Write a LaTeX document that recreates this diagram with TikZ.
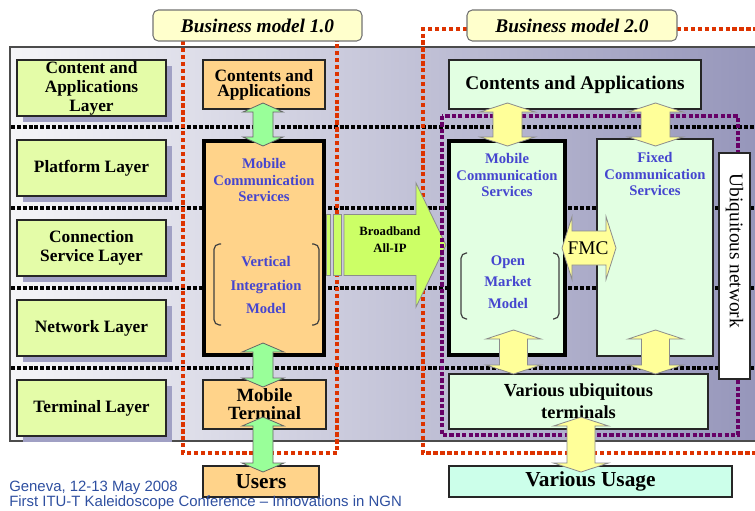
\documentclass[tikz,border=0pt]{standalone}
\usepackage{fontspec}
\setmainfont{Liberation Serif}
\newfontfamily\arialf{Liberation Sans}
\usetikzlibrary{calc,shadows}
\definecolor{layerc}{HTML}{E4FCA8}
\definecolor{shadowc}{HTML}{A0A0C4}
\definecolor{orangec}{HTML}{FFD38A}
\definecolor{mintc}{HTML}{E2FFE2}
\definecolor{usagec}{HTML}{CCFFEA}
\definecolor{labelc}{HTML}{FFFFCC}
\definecolor{greenarr}{HTML}{99FF99}
\definecolor{yellowarr}{HTML}{FFFF99}
\definecolor{bbc}{HTML}{CCFF66}
\definecolor{redline}{HTML}{DD3300}
\definecolor{purpleline}{HTML}{660066}
\definecolor{bluetext}{HTML}{4545CF}
\definecolor{footc}{HTML}{2E4FA0}
\definecolor{bgl}{HTML}{F5F5F8}
\definecolor{bgr}{HTML}{9595BA}
\newcommand\bx[7]{\node[#2, minimum width={(#5-#3)*0.75pt}, minimum height={(#6-#4)*0.75pt}] (#1) at ({(#3+#5)/2},{(#4+#6)/2}) {#7};}
\newcommand\vda[9]{\path[#1] let \p1=(#2 -| #4), \p2=(#3 -| #4) in
 (\x1,\y1+#8*0.75pt) -- (\x1+#5*0.75pt,\y1+#8*0.75pt-#7*0.75pt) -- (\x1+#6*0.75pt,\y1+#8*0.75pt-#7*0.75pt)
 -- (\x1+#6*0.75pt,\y2-#9*0.75pt+#7*0.75pt) -- (\x1+#5*0.75pt,\y2-#9*0.75pt+#7*0.75pt) -- (\x1,\y2-#9*0.75pt)
 -- (\x1-#5*0.75pt,\y2-#9*0.75pt+#7*0.75pt) -- (\x1-#6*0.75pt,\y2-#9*0.75pt+#7*0.75pt)
 -- (\x1-#6*0.75pt,\y1+#8*0.75pt-#7*0.75pt) -- (\x1-#5*0.75pt,\y1+#8*0.75pt-#7*0.75pt) -- cycle;}
\begin{document}
\begin{tikzpicture}[x=0.75pt,y=-0.75pt,
  sepline/.style={black, line width=2.5pt, dash pattern=on 3pt off 1.4pt},
  redd/.style={redline, line width=3.2pt, dash pattern=on 3.2pt off 2pt},
  purd/.style={purpleline, line width=3.2pt, dash pattern=on 3.2pt off 1.6pt},
  layer/.style={draw=black!85, line width=0.8pt, fill=layerc, align=center, inner sep=0pt, outer sep=0pt,
    font=\fontsize{13}{14.2}\selectfont\bfseries,
    drop shadow={shadow xshift=4.5pt, shadow yshift=-4.5pt, fill=shadowc, opacity=1}},
  obox/.style={draw=black!85, line width=0.8pt, fill=orangec, align=center, inner sep=0pt, outer sep=0pt},
  mbox/.style={draw=black!85, line width=0.8pt, fill=mintc, align=center, inner sep=0pt, outer sep=0pt},
  thickbox/.style={line width=3.2pt, draw=black},
  bmlabel/.style={draw=black!55, line width=0.8pt, rounded corners=4pt, fill=labelc, inner sep=0pt, outer sep=0pt,
    font=\fontsize{14.5}{16}\selectfont\bfseries\itshape},
  bluet/.style={text=bluetext, align=center, font=\fontsize{11}{12.3}\selectfont\bfseries},
  brack/.style={draw=black!75, line width=0.9pt, rounded corners=4pt},
  garrow/.style={fill=greenarr, draw=black!60, line width=0.6pt},
  yarrow/.style={fill=yellowarr, draw=black!45, line width=0.6pt},
  bbarrow/.style={fill=bbc, draw=black!45, line width=0.6pt}]
\useasboundingbox (0,0) rectangle (755,510);

% background panel
\path[draw=black!70, line width=0.8pt, left color=bgl, right color=bgr] (10,47) rectangle (764,441);

% layer separators
\foreach \yy in {127,208,288,368} \draw[sepline] (11,\yy) -- (764,\yy);

% red dotted business-model frames
\draw[redd] (183,41) -- (183,453) -- (337,453) -- (337,41);
\draw[redd] (467,29) -- (423,29) -- (423,453) -- (764,453);
\draw[redd] (677,29) -- (764,29);

% left layer boxes
\bx{l1}{layer}{17}{60}{166}{116}{Content and\\Applications\\Layer}
\bx{l2}{layer}{17}{140}{166}{196}{Platform Layer}
\bx{l3}{layer}{17}{220}{166}{276}{Connection\\Service Layer}
\bx{l4}{layer}{17}{300}{166}{356}{Network Layer}
\bx{l5}{layer}{17}{380}{166}{436}{Terminal Layer}

% business model 1.0 boxes
\bx{cab1}{obox, font=\fontsize{13}{11.5}\selectfont\bfseries}{203}{60}{325}{109}{Contents and\\Applications}
\bx{mcs1}{obox, thickbox}{204}{141}{324}{355}{}
\bx{mt1}{obox, font=\fontsize{14}{13.5}\selectfont\bfseries}{203}{380}{326}{429}{Mobile\\Terminal}
\bx{users}{obox, font=\fontsize{16}{18}\selectfont\bfseries}{203}{466}{319}{497}{Users}
\node[bluet] (mcs1t) at (264,180) {Mobile\\Communication\\Services};
\node[bluet, font=\fontsize{11}{17.6}\selectfont\bfseries] (vim1t) at (266,285) {Vertical\\Integration\\Model};
\draw[brack] (221,244) -| (214,325) -- (221,325);
\draw[brack] (312,244) -| (319,325) -- (312,325);

% business model 2.0 boxes
\bx{cab2}{mbox, font=\fontsize{14.5}{16}\selectfont\bfseries}{449}{60}{701}{109}{Contents and Applications}
\bx{mcs2}{mbox, thickbox}{449}{141}{565}{355}{}
\bx{fcs}{mbox}{597}{139}{713}{356}{}
\bx{vut}{mbox, font=\fontsize{13.8}{16.5}\selectfont\bfseries}{449}{374}{708}{429}{Various ubiquitous\\terminals}
\bx{usage}{obox, fill=usagec, font=\fontsize{16}{18}\selectfont\bfseries}{449}{466}{732}{497}{Various Usage}
\node[bluet] (mcs2t) at (507,175) {Mobile\\Communication\\Services};
\node[bluet] (fcst) at (655,174) {Fixed\\Communication\\Services};
\node[bluet, font=\fontsize{11}{16.1}\selectfont\bfseries] (omm2t) at (508,282) {Open\\Market\\Model};
\draw[brack] (467,253) -| (461,319) -- (467,319);
\draw[brack] (553,253) -| (559,319) -- (553,319);

% broadband arrow
\path[bbarrow] (326,214) rectangle (330,275);
\path[bbarrow] (333,214) rectangle (341,275);
\path[bbarrow] let \p1=(mcs1.east), \p2=(mcs2.west) in
  (\x1+15pt,\y1+2.25pt+22.9pt) -- (\x2-24.75pt,\y1+2.25pt+22.9pt) -- (\x2-24.75pt,\y1+2.25pt+46.5pt)
  -- (\x2-2.25pt,\y1+2.25pt) -- (\x2-24.75pt,\y1+2.25pt-46.5pt) -- (\x2-24.75pt,\y1+2.25pt-22.9pt)
  -- (\x1+15pt,\y1+2.25pt-22.9pt) -- cycle;
\node[font=\fontsize{9.5}{12.75}\selectfont\bfseries, align=center] (bbt) at (390,240) {Broadband\\All-IP};

% purple ubiquitous frame
\draw[purd] (442,116) rectangle (738,435);

% ubiquitous network
\bx{ubq}{draw=black!85, line width=0.8pt, fill=white, inner sep=0pt, outer sep=0pt}{719}{153}{750}{379}{}
\node[rotate=-90, font=\fontsize{14.5}{16}\selectfont] (ubqt) at (734.5,251) {Ubiquitous network};

% green arrows (model 1.0)
\coordinate (xg) at (263,0);
\vda{garrow}{cab1.south}{mcs1.north}{xg}{20}{10}{9}{6}{5}
\vda{garrow}{mcs1.south}{mt1.north}{xg}{21}{10}{9}{12}{7}
\vda{garrow}{mt1.south}{users.north}{xg}{21}{10}{9}{12}{6}

% yellow arrows (model 2.0)
\coordinate (xy1) at (507.5,0);
\coordinate (xy2) at (655.5,0);
\coordinate (xy3) at (513.5,0);
\coordinate (xy5) at (581,0);
\vda{yarrow}{cab2.south}{mcs2.north}{xy1}{27.5}{14.5}{9}{6}{5}
\vda{yarrow}{cab2.south}{fcs.north}{xy2}{27.5}{14.5}{9}{6}{7}
\vda{yarrow}{mcs2.south}{vut.north}{xy3}{27.5}{14}{9}{25}{0}
\vda{yarrow}{fcs.south}{vut.north}{xy2}{27.5}{14}{9}{26}{0}
\vda{yarrow}{vut.south}{usage.north}{xy5}{27.5}{14}{9}{12}{6}

% FMC arrow
\coordinate (fmcy) at (0,248);
\path[yarrow] let \p1=(mcs2.east |- fmcy), \p2=(fcs.west |- fmcy) in
  (\x1-2.25pt,\y1) -- (\x1+5.25pt,\y1+23.6pt) -- (\x1+5.25pt,\y1+12.75pt) -- (\x2+6.75pt,\y1+12.75pt)
  -- (\x2+6.75pt,\y1+23.6pt) -- (\x2+14.25pt,\y1) -- (\x2+6.75pt,\y1-23.6pt) -- (\x2+6.75pt,\y1-12.75pt)
  -- (\x1+5.25pt,\y1-12.75pt) -- (\x1+5.25pt,\y1-23.6pt) -- cycle;
\node[font=\fontsize{14.5}{16}\selectfont] (fmct) at (588,248) {FMC};

% business model labels
\bx{bm1}{bmlabel}{153}{10}{362}{41}{Business model 1.0}
\bx{bm2}{bmlabel}{467}{10}{677}{41}{Business model 2.0}

% footer
\node[anchor=base west, inner sep=0pt, text=footc, font=\arialf\fontsize{11.2}{13}\selectfont] (ft1) at (9,491) {Geneva, 12-13 May 2008};
\node[anchor=base west, inner sep=0pt, text=footc, font=\arialf\fontsize{11.2}{13}\selectfont] (ft2) at (9,506.5) {First ITU-T Kaleidoscope Conference – Innovations in NGN};
\end{tikzpicture}
\end{document}
